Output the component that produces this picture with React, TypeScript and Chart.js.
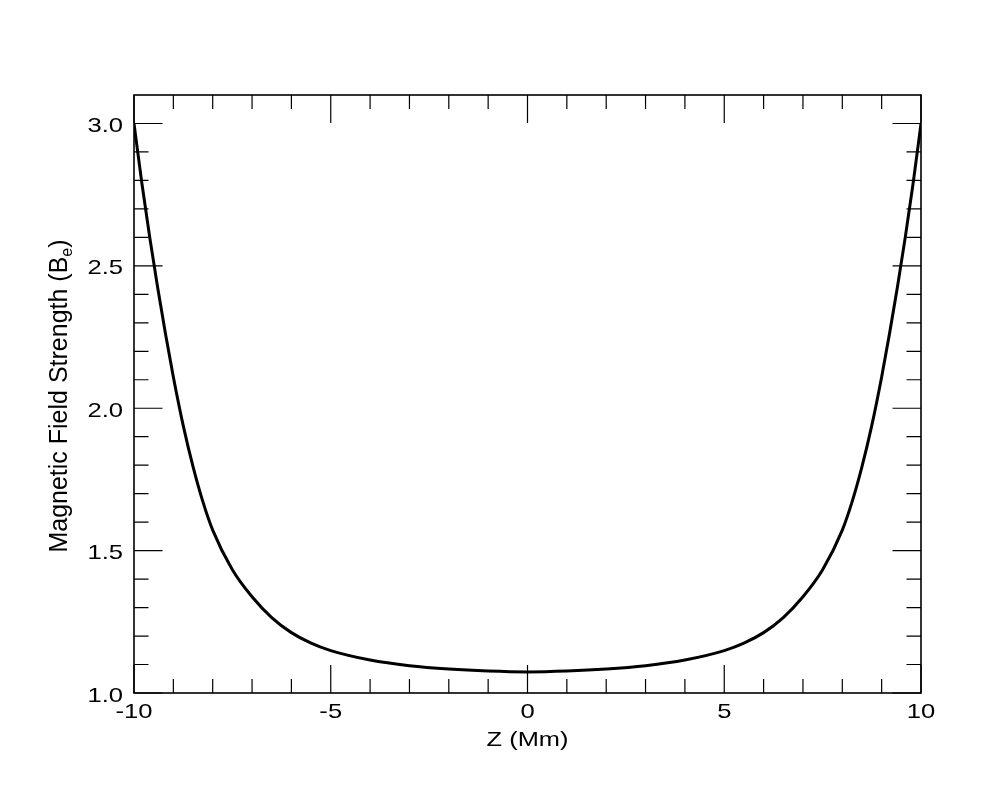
import React, { useEffect, useRef } from 'react';
import { Chart, registerables } from 'chart.js';

Chart.register(...registerables);

// ---- data ----
const zValues = [
  -10, -9.8, -9.6, -9.4, -9.2, -9, -8.75, -8.5, -8.25, -8, -7.5, -7, -6.5, -6, -5.5, -5, -4, -3, -2, -1,
  0,
  1, 2, 3, 4, 5, 5.5, 6, 6.5, 7, 7.5, 8, 8.25, 8.5, 8.75, 9, 9.2, 9.4, 9.6, 9.8, 10,
];
const bValues = [
  3.0, 2.79, 2.6, 2.425, 2.262, 2.11, 1.94, 1.795, 1.672, 1.572, 1.433, 1.338, 1.265, 1.212, 1.175, 1.149, 1.116, 1.096, 1.084, 1.077,
  1.074,
  1.077, 1.084, 1.096, 1.116, 1.149, 1.175, 1.212, 1.265, 1.338, 1.433, 1.572, 1.672, 1.795, 1.94, 2.11, 2.262, 2.425, 2.6, 2.79, 3.0,
];

const xMajorTicks = [-10, -5, 0, 5, 10];
const xTickLabels = ['-10', '-5', '0', '5', '10'];
const xMinorTicks = [-9, -8, -7, -6, -4, -3, -2, -1, 1, 2, 3, 4, 6, 7, 8, 9];
const yMajorTicks = [1.0, 1.5, 2.0, 2.5, 3.0];
const yTickLabels = ['1.0', '1.5', '2.0', '2.5', '3.0'];
const yMinorTicks = [1.1, 1.2, 1.3, 1.4, 1.6, 1.7, 1.8, 1.9, 2.1, 2.2, 2.3, 2.4, 2.6, 2.7, 2.8, 2.9];

const xTitle = 'Z (Mm)';
const yTitleMain = 'Magnetic Field Strength (B';
const yTitleSub = 'e';
const yTitleEnd = ')';

const X_MIN = -10;
const X_MAX = 10;
const Y_MIN = 1.0;
const Y_MAX = 3.1;

const FONT = '"Liberation Sans", Arial, Helvetica, sans-serif';

function scaledText(ctx: CanvasRenderingContext2D, text: string, x: number, y: number, sx: number, align: CanvasTextAlign) {
  ctx.save();
  ctx.translate(x, y);
  ctx.scale(sx, 1);
  ctx.textAlign = align;
  ctx.fillText(text, 0, 0);
  ctx.restore();
}

const framePlugin = {
  id: 'frame',
  afterDraw(chart: any) {
    const { ctx, chartArea: a, scales } = chart;
    const xs = scales.x;
    const ys = scales.y;
    ctx.save();
    ctx.strokeStyle = '#000';
    ctx.lineWidth = 1.2;
    ctx.beginPath();
    const vTick = (v: number, len: number) => {
      const px = xs.getPixelForValue(v);
      ctx.moveTo(px, a.bottom);
      ctx.lineTo(px, a.bottom - len);
      ctx.moveTo(px, a.top);
      ctx.lineTo(px, a.top + len);
    };
    const hTick = (v: number, len: number) => {
      const py = ys.getPixelForValue(v);
      ctx.moveTo(a.left, py);
      ctx.lineTo(a.left + len, py);
      ctx.moveTo(a.right, py);
      ctx.lineTo(a.right - len, py);
    };
    xMajorTicks.forEach((v) => vTick(v, 28));
    xMinorTicks.forEach((v) => vTick(v, 14));
    yMajorTicks.forEach((v) => hTick(v, 28.5));
    yMinorTicks.forEach((v) => hTick(v, 14.5));
    ctx.stroke();

    ctx.lineWidth = 1.6;
    ctx.strokeRect(a.left, a.top, a.right - a.left, a.bottom - a.top);

    ctx.fillStyle = '#000';
    ctx.textBaseline = 'alphabetic';
    ctx.font = `21px ${FONT}`;
    xMajorTicks.forEach((v, i) => {
      scaledText(ctx, xTickLabels[i], xs.getPixelForValue(v), a.bottom + 25, 1.22, 'center');
    });
    yMajorTicks.forEach((v, i) => {
      scaledText(ctx, yTickLabels[i], a.left - 11, ys.getPixelForValue(v) + 8.5, 1.22, 'right');
    });

    ctx.font = `20px ${FONT}`;
    scaledText(ctx, xTitle, (a.left + a.right) / 2, a.bottom + 53, 1.27, 'center');

    // y title, rotated, with subscript
    const mainFont = `25px ${FONT}`;
    const subFont = `16px ${FONT}`;
    ctx.font = mainFont;
    const wMain = ctx.measureText(yTitleMain).width;
    const wEnd = ctx.measureText(yTitleEnd).width;
    ctx.font = subFont;
    const wSub = ctx.measureText(yTitleSub).width;
    const total = wMain + wSub + wEnd;
    ctx.translate(67, (a.top + a.bottom) / 2 + 2);
    ctx.rotate(-Math.PI / 2);
    ctx.textAlign = 'left';
    let cx = -total / 2;
    ctx.font = mainFont;
    ctx.fillText(yTitleMain, cx, 0);
    cx += wMain;
    ctx.font = subFont;
    ctx.fillText(yTitleSub, cx, 5);
    cx += wSub;
    ctx.font = mainFont;
    ctx.fillText(yTitleEnd, cx, 0);
    ctx.restore();
  },
};

export default function App() {
  const ref = useRef<HTMLCanvasElement | null>(null);

  useEffect(() => {
    if (!ref.current) return;
    const points = zValues.map((z, i) => ({ x: z, y: bValues[i] }));
    const chart = new Chart(ref.current, {
      type: 'line',
      data: {
        datasets: [
          {
            data: points,
            borderColor: '#000',
            borderWidth: 3,
            pointRadius: 0,
            fill: false,
            cubicInterpolationMode: 'monotone',
          },
        ],
      },
      options: {
        responsive: false,
        animation: false,
        devicePixelRatio: 1,
        layout: { padding: { left: 134, top: 95, right: 79, bottom: 107 } },
        plugins: { legend: { display: false }, tooltip: { enabled: false }, title: { display: false } },
        scales: {
          x: { type: 'linear', min: X_MIN, max: X_MAX, display: false },
          y: { type: 'linear', min: Y_MIN, max: Y_MAX, display: false },
        },
      },
      plugins: [framePlugin],
    });
    return () => chart.destroy();
  }, []);

  return (
    <div style={{ position: 'absolute', left: 0, top: 0, width: 1000, height: 800, background: '#fff' }}>
      <canvas ref={ref} width={1000} height={800} />
    </div>
  );
}
